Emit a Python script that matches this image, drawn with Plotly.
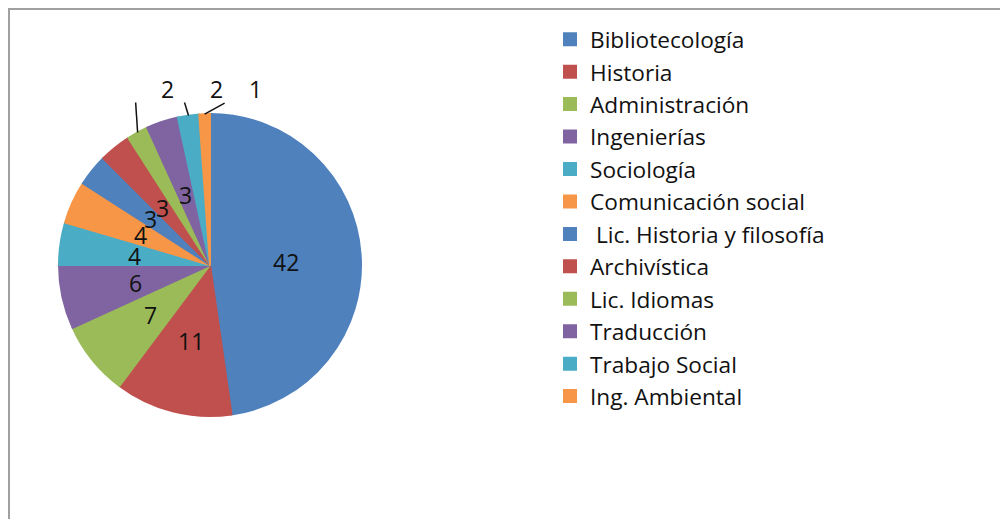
import numpy as np
import plotly.graph_objects as go

labels = ["Bibliotecología", "Historia", "Administración", "Ingenierías", "Sociología",
          "Comunicación social", " Lic. Historia y filosofía", "Archivística", "Lic. Idiomas",
          "Traducción", "Trabajo Social", "Ing. Ambiental"]
values = [42, 11, 7, 6, 4, 4, 3, 3, 2, 3, 2, 1]
label_text = ["42", "11", "7", "6", "4", "4", "3", "3", "2", "3", "2", "1"]
outside = [False] * 8 + [True, False, True, True]

palette = ["#4F81BD", "#C0504D", "#9BBB59", "#8064A2", "#4BACC6", "#F79646"]
colors = [palette[i % 6] for i in range(len(values))]

W, H = 1008, 519
OFF = 8  # page body margin
cx, cy, R = 210, 265, 152
FONT = "Open Sans"
TXT = "#111111"


def px(x):
    return (x - OFF) / W


def py(y):
    return 1 - (y - OFF) / H


fig = go.Figure(go.Pie(
    labels=labels, values=values, sort=False, direction="clockwise", rotation=0,
    marker=dict(colors=colors, line=dict(color=colors, width=2)),
    textinfo="none", hoverinfo="label+value",
    domain=dict(x=[px(cx - R + 1), px(cx + R - 1)], y=[py(cy + R - 1), py(cy - R + 1)]),
))

total = sum(values)
cum = np.cumsum([0] + values)
annotations = []
shapes = []
# leader line end offsets and label offsets (px) for outside labels
leader_end = {8: (-2, -30), 10: (-4, -13), 11: (20, -11)}
label_off = {8: (30, -43.5), 10: (27.6, -26.5), 11: (50.5, -25)}
for i, v in enumerate(values):
    mid = (cum[i] + v / 2) / total * 2 * np.pi
    dx, dy = np.sin(mid), -np.cos(mid)
    if not outside[i]:
        r = 0.5 * R
        tx, ty = cx + r * dx, cy + r * dy + 2
    else:
        ex, ey = cx + (R - 1) * dx, cy + (R - 1) * dy
        lx, ly = leader_end[i]
        shapes.append(dict(type="line", xref="paper", yref="paper",
                           x0=px(ex), y0=py(ey), x1=px(ex + lx), y1=py(ey + ly),
                           line=dict(color=TXT, width=1.5)))
        ox, oy = label_off[i]
        tx, ty = ex + ox, ey + oy
    annotations.append(dict(x=px(tx), y=py(ty), xref="paper", yref="paper",
                            xanchor="center", yanchor="middle",
                            text=label_text[i], showarrow=False, borderpad=0,
                            font=dict(family=FONT, size=23, color=TXT)))

# chart frame (cropped border)
shapes.append(dict(type="line", xref="paper", yref="paper", x0=0, y0=py(9), x1=1.01, y1=py(9),
                   line=dict(color="#A0A0A0", width=2)))
shapes.append(dict(type="line", xref="paper", yref="paper", x0=px(9), y0=py(8), x1=px(9), y1=-0.01,
                   line=dict(color="#A0A0A0", width=2)))

fig.update_layout(
    width=W, height=H,
    margin=dict(l=0, r=0, t=0, b=0),
    paper_bgcolor="white", plot_bgcolor="white",
    font=dict(family=FONT, size=22, color=TXT),
    showlegend=True,
    legend=dict(x=px(550), y=py(18), xanchor="left", yanchor="top",
                font=dict(family=FONT, size=22.65, color=TXT),
                bgcolor="rgba(0,0,0,0)", traceorder="normal"),
    annotations=annotations,
    shapes=shapes,
)

fig.write_html("out.html")
